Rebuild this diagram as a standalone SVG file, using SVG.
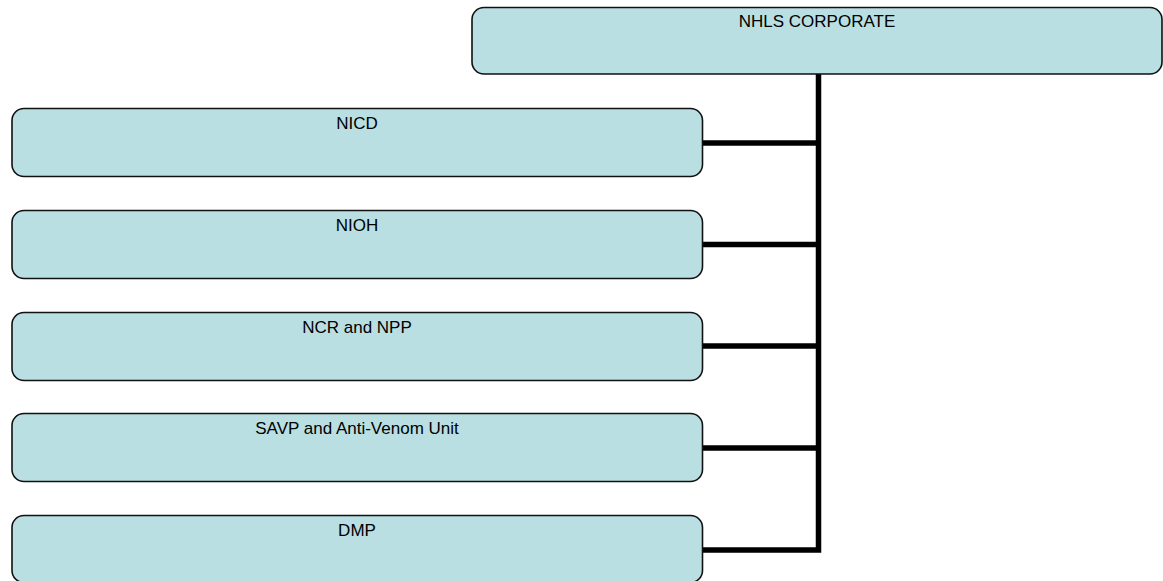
<svg xmlns="http://www.w3.org/2000/svg" width="1163" height="581" viewBox="0 0 1163 581">
<style>
.box{fill:#b9dfe2;stroke:#111;stroke-width:1.6}
.lbl{font-family:"Liberation Sans",Arial,sans-serif;font-size:17px;fill:#000;text-anchor:middle}
.conn{fill:none;stroke:#000;stroke-width:5.5;stroke-linejoin:miter}
</style>
<rect width="1163" height="581" fill="#fff"/>
<g id="connectors">
<path class="conn" d="M818.5 74 V550 H702.5"/>
<path class="conn" d="M702.5 143 H818.5"/>
<path class="conn" d="M702.5 244.5 H818.5"/>
<path class="conn" d="M702.5 346 H818.5"/>
<path class="conn" d="M702.5 448 H818.5"/>
</g>
<g id="nhls">
<rect class="box" x="472" y="7.5" width="690" height="66.5" rx="12"/>
<text class="lbl" x="817" y="27">NHLS CORPORATE</text>
</g>
<g id="nicd">
<rect class="box" x="12" y="108.5" width="690.5" height="68" rx="12"/>
<text class="lbl" x="357" y="128.5">NICD</text>
</g>
<g id="nioh">
<rect class="box" x="12" y="210.5" width="690.5" height="68" rx="12"/>
<text class="lbl" x="357" y="230.5">NIOH</text>
</g>
<g id="ncr">
<rect class="box" x="12" y="312.5" width="690.5" height="68" rx="12"/>
<text class="lbl" x="357" y="332.5">NCR and NPP</text>
</g>
<g id="savp">
<rect class="box" x="12" y="413.5" width="690.5" height="68" rx="12"/>
<text class="lbl" x="357" y="434">SAVP and Anti-Venom Unit</text>
</g>
<g id="dmp">
<rect class="box" x="12" y="515.5" width="690.5" height="67" rx="12"/>
<text class="lbl" x="357" y="536">DMP</text>
</g>
</svg>
